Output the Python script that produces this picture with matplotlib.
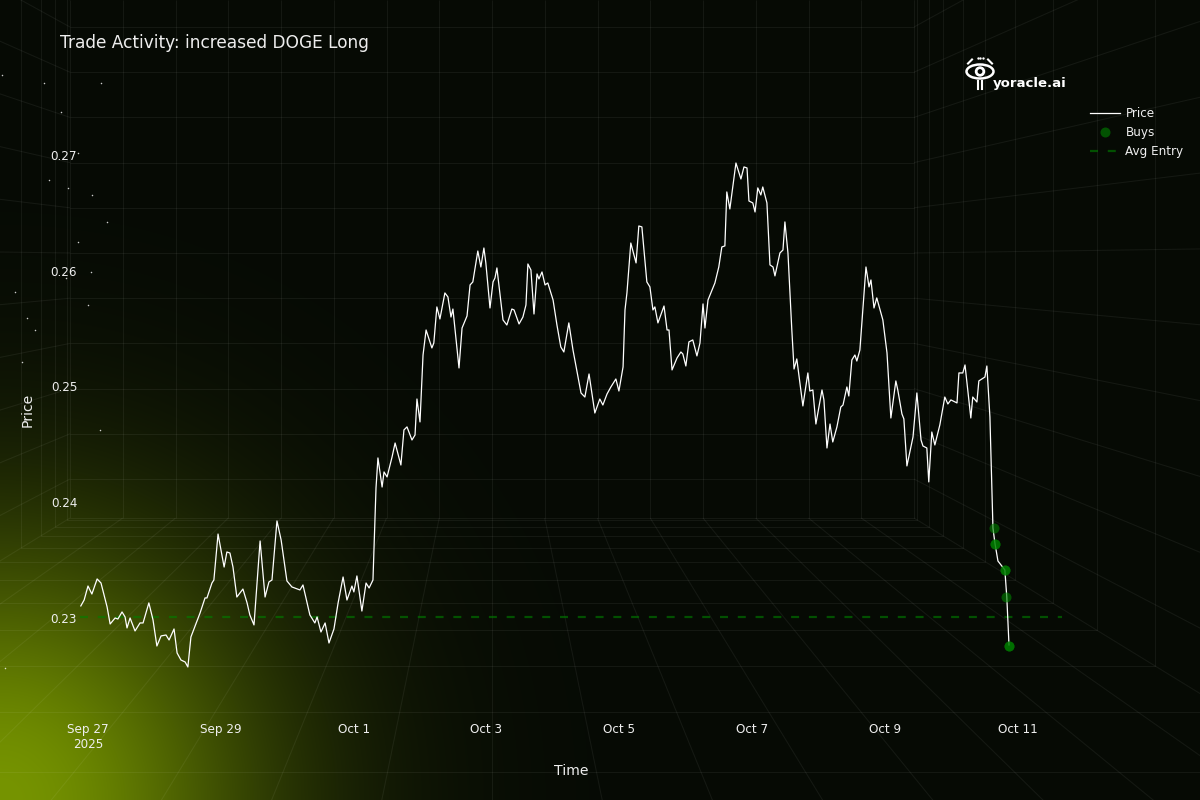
import numpy as np
import pandas as pd
import matplotlib
matplotlib.use("Agg")
import matplotlib.pyplot as plt
import matplotlib.dates as mdates
from matplotlib.collections import LineCollection
from matplotlib.patches import Ellipse, Circle

# ---- data ----
START = pd.Timestamp("2025-09-27 00:00")

# hours since START
hours = [
    -2.6, -1.4, 0.0, 1.4, 3.3, 4.7, 6.9, 8.0, 9.8, 10.8,
    12.3, 13.4, 14.1, 15.2, 17.0, 18.8, 19.9, 22.0, 23.5, 24.9,
    26.4, 28.2, 29.3, 31.1, 32.2, 33.6, 35.1, 36.1, 37.2, 40.5,
    42.3, 43.0, 44.8, 45.5, 47.0, 49.2, 50.2, 51.3, 52.4, 53.8,
    56.0, 57.5, 58.5, 60.0, 62.2, 64.0, 65.4, 66.5, 68.3, 69.8,
    71.9, 73.7, 76.6, 77.7, 80.2, 82.0, 82.8, 84.2, 85.7, 87.1,
    88.9, 90.4, 92.2, 93.6, 95.4, 96.1, 97.2, 99.0, 100.5, 101.6,
    103.0, 104.1, 104.8, 106.3, 107.0, 108.1, 109.9, 111.0, 113.1, 114.2,
    115.3, 117.1, 118.2, 118.9, 120.0, 121.1, 122.2, 124.3, 125.0, 126.1,
    127.2, 129.0, 130.1, 131.2, 131.9, 134.1, 135.2, 137.0, 138.1, 139.1,
    140.9, 142.0, 143.1, 143.8, 145.3, 146.4, 147.1, 147.8, 150.0, 151.4,
    153.2, 154.0, 155.8, 157.2, 158.3, 159.0, 160.1, 161.2, 162.3, 163.0,
    164.1, 165.2, 166.2, 168.1, 169.5, 170.9, 172.0, 173.8, 175.3, 178.2,
    179.6, 181.1, 183.2, 185.0, 186.1, 187.6, 189.0, 190.8, 191.9, 193.4,
    194.1, 194.8, 196.2, 198.1, 199.1, 200.2, 202.0, 203.1, 204.2, 204.9,
    206.0, 208.2, 209.3, 210.0, 211.1, 212.9, 214.3, 215.0, 216.1, 217.2,
    218.6, 220.1, 221.2, 222.3, 223.0, 224.1, 226.6, 228.0, 229.1, 230.2,
    230.9, 232.0, 234.2, 236.0, 237.1, 238.2, 238.9, 240.3, 241.1, 242.1,
    243.2, 243.9, 245.4, 246.5, 247.6, 248.3, 250.1, 251.2, 251.9, 253.0,
    254.4, 255.2, 256.2, 258.4, 260.2, 260.9, 262.0, 263.1, 265.3, 266.0,
    267.1, 268.2, 269.2, 270.7, 272.1, 272.9, 274.3, 275.0, 276.1, 277.2,
    277.9, 279.0, 281.2, 282.3, 283.0, 284.1, 285.1, 287.3, 288.8, 290.2,
    292.0, 292.7, 294.2, 294.9, 296.0, 298.2, 299.6, 301.1, 301.8, 303.2,
    303.9, 305.0, 306.1, 307.9, 309.7, 310.8, 311.9, 314.1, 314.8, 316.2,
    317.0, 319.1, 319.8, 321.3, 322.0, 324.2, 324.9, 326.0, 327.1, 327.8,
    328.9, 330.0, 331.4, 332.1, 332.9,
]

price = [
    0.23104, 0.23155, 0.23276, 0.23207, 0.23337, 0.23302, 0.23095, 0.22948, 0.23000, 0.22991,
    0.23052, 0.23009, 0.22914, 0.23000, 0.22888, 0.22957, 0.22957, 0.23130, 0.22983, 0.22758,
    0.22845, 0.22853, 0.22810, 0.22905, 0.22698, 0.22637, 0.22620, 0.22577, 0.22836, 0.23043,
    0.23173, 0.23173, 0.23302, 0.23328, 0.23725, 0.23440, 0.23570, 0.23561, 0.23440, 0.23181,
    0.23250, 0.23130, 0.23026, 0.22940, 0.23665, 0.23181, 0.23311, 0.23328, 0.23838, 0.23674,
    0.23320, 0.23268, 0.23242, 0.23285, 0.23026, 0.22957, 0.23009, 0.22879, 0.22957, 0.22784,
    0.22905, 0.23130, 0.23354, 0.23155, 0.23276, 0.23225, 0.23363, 0.23060, 0.23302, 0.23259,
    0.23328, 0.24123, 0.24382, 0.24131, 0.24261, 0.24218, 0.24390, 0.24511, 0.24321, 0.24624,
    0.24650, 0.24537, 0.24580, 0.24891, 0.24693, 0.25271, 0.25487, 0.25332, 0.25375, 0.25686,
    0.25582, 0.25807, 0.25772, 0.25599, 0.25668, 0.25159, 0.25504, 0.25608, 0.25876, 0.25902,
    0.26169, 0.26031, 0.26195, 0.26066, 0.25677, 0.25902, 0.25936, 0.26023, 0.25574, 0.25530,
    0.25668, 0.25660, 0.25539, 0.25599, 0.25703, 0.26057, 0.26005, 0.25625, 0.25971, 0.25928,
    0.25988, 0.25876, 0.25893, 0.25746, 0.25530, 0.25340, 0.25297, 0.25548, 0.25314, 0.24943,
    0.24908, 0.25107, 0.24770, 0.24891, 0.24839, 0.24934, 0.24995, 0.25064, 0.24960, 0.25168,
    0.25660, 0.25807, 0.26238, 0.26066, 0.26385, 0.26377, 0.25902, 0.25859, 0.25660, 0.25686,
    0.25548, 0.25694, 0.25487, 0.25487, 0.25142, 0.25245, 0.25297, 0.25280, 0.25176, 0.25384,
    0.25401, 0.25263, 0.25375, 0.25712, 0.25504, 0.25746, 0.25893, 0.26031, 0.26204, 0.26213,
    0.26679, 0.26532, 0.26929, 0.26791, 0.26895, 0.26886, 0.26601, 0.26584, 0.26506, 0.26714,
    0.26653, 0.26722, 0.26584, 0.26049, 0.26031, 0.25954, 0.26152, 0.26178, 0.26420, 0.26152,
    0.25487, 0.25150, 0.25237, 0.24831, 0.25116, 0.24960, 0.24969, 0.24675, 0.24969, 0.24883,
    0.24468, 0.24675, 0.24520, 0.24650, 0.24822, 0.24839, 0.24995, 0.24917, 0.25228, 0.25271,
    0.25219, 0.25314, 0.26031, 0.25859, 0.25919, 0.25677, 0.25764, 0.25574, 0.25289, 0.24727,
    0.25047, 0.24969, 0.24762, 0.24719, 0.24313, 0.24563, 0.24943, 0.24537, 0.24485, 0.24468,
    0.24175, 0.24606, 0.24494, 0.24667, 0.24908, 0.24848, 0.24883, 0.24857, 0.25116, 0.25116,
    0.25185, 0.24727, 0.24908, 0.24865, 0.25047, 0.25081, 0.25176, 0.24736, 0.23777, 0.23648,
    0.23492, 0.23458, 0.23415, 0.23181, 0.22767,
]

# buys (some fills share the same time and price)
buy_hours = [327.4, 327.8, 327.8, 331.4, 331.4, 331.8, 332.9, 332.9]
buy_price = [0.23777, 0.23639, 0.23639, 0.23415, 0.23415, 0.23181, 0.22758, 0.22758]
avg_entry = 0.2301

tick_dates = ["2025-09-27", "2025-09-29", "2025-10-01", "2025-10-03",
              "2025-10-05", "2025-10-07", "2025-10-09", "2025-10-11"]
tick_labels = ["Sep 27\n2025", "Sep 29", "Oct 1", "Oct 3",
               "Oct 5", "Oct 7", "Oct 9", "Oct 11"]
y_ticks = [0.23, 0.24, 0.25, 0.26, 0.27]

BG = "#060a05"
TXT = "#eeeeee"

fig = plt.figure(figsize=(12, 8), dpi=100)
fig.patch.set_facecolor(BG)

# ---- decorative background: glow + perspective room grid ----
bg = fig.add_axes([0, 0, 1, 1])
yy, xx = np.mgrid[0:800, 0:1200]
r = np.hypot(xx, 800 - yy)
f = np.exp(-(r / 265.0) ** 2.0)
base = np.array([6, 10, 5]) / 255
glow = np.array([118, 148, 0]) / 255
img = base + (glow - base) * f[..., None]
bg.imshow(img, extent=(0, 1200, 800, 0), aspect="auto", zorder=0)

vp = np.array([492.0, 259.0])
wall_x = 70 + 52.75 * np.arange(17)
wall_y = 27 + 45.2 * np.arange(11)
frames = [1.007, 1.036, 1.069, 1.116, 1.168, 1.239, 1.329, 1.434, 1.571, 1.75, 1.98, 2.3]
segs = []
for x in wall_x:
    segs.append([(x, 0), (x, 518)])
for y in list(wall_y) + [518]:
    segs.append([(70, y), (914, y)])
far = 5.0
for x in wall_x:
    p = np.array([x, 518.0])
    segs.append([p, vp + far * (p - vp)])
for y in list(wall_y) + [0.0]:
    for x in (70.0, 914.0):
        p = np.array([x, y])
        segs.append([p, vp + far * (p - vp)])
for s in frames:
    l, rr = vp[0] - s * 422, vp[0] + s * 422
    t, b = vp[1] - s * 259, vp[1] + s * 259
    segs.append([(l, t), (l, b), (rr, b), (rr, t)])
bg.add_collection(LineCollection(segs, colors="white", alpha=0.058, linewidths=0.8, zorder=1))

stars_x = [2, 44, 101, 61, 78, 68, 92, 107, 78, 91, 88, 15, 27, 35, 49, 5, 22, 66, 100]
stars_y = [75, 83, 83, 112, 153, 188, 195, 222, 242, 272, 305, 292, 318, 330, 180, 668, 362, 278, 430]
bg.scatter(stars_x, stars_y, s=1.2, color="white", alpha=0.8, lw=0, zorder=1)

# logo
bg.add_patch(Ellipse((980, 71.5), 27, 14, fill=False, ec="white", lw=1.8, zorder=3))
bg.add_patch(Circle((980, 71.5), 4.5, color="white", zorder=3))
bg.add_patch(Circle((980, 71.5), 1.7, color=BG, zorder=4))
bg.plot([968.0, 972.0], [63.5, 59.5], color="white", lw=1.5, zorder=3)
bg.plot([988.0, 992.0], [59.5, 63.5], color="white", lw=1.5, zorder=3)
bg.scatter([977.5, 980, 982.5], [57.5, 57.5, 57.5], s=3, color="white", lw=0, zorder=3)
bg.plot([977.8, 977.8], [81, 88.5], color="white", lw=1.5, zorder=3)
bg.plot([981.8, 981.8], [81, 88.5], color="white", lw=1.5, zorder=3)
bg.text(993, 83, "yoracle.ai", color="white", fontsize=9.5, fontweight="bold",
        va="center", ha="left", zorder=3)

bg.set_xlim(0, 1200)
bg.set_ylim(800, 0)
bg.axis("off")

# ---- main chart ----
ax = fig.add_axes([80 / 1200, 80 / 800, 982 / 1200, 620 / 800])
ax.patch.set_alpha(0)
t0 = mdates.date2num(START)
x = t0 + np.array(hours) / 24.0
bx = t0 + np.array(buy_hours) / 24.0

ax.plot(x, price, color="white", lw=0.9, label="Price", zorder=3)
ax.plot(bx, buy_price, "o", color="#008000", alpha=0.62, ms=7.2, mew=0,
        label="Buys", zorder=4)
ax.axhline(avg_entry, color="#008000", alpha=0.6, lw=1.6, dashes=(3.6, 4.4),
           label="Avg Entry", zorder=2)

ax.set_xlim(t0 - 0.1205, t0 + 14.669)
ax.set_ylim(0.22119, 0.27473)
ax.set_xticks([mdates.date2num(pd.Timestamp(d)) for d in tick_dates])
ax.set_xticklabels(tick_labels)
ax.set_yticks(y_ticks)
ax.set_yticklabels([f"{v:.2f}" for v in y_ticks])
ax.tick_params(colors=TXT, labelsize=8.64, length=0)
ax.tick_params(axis="x", pad=2)
ax.tick_params(axis="y", pad=2)
for sp in ax.spines.values():
    sp.set_visible(False)

fig.text(571 / 1200, 1 - 771 / 800, "Time", color=TXT, fontsize=10.08, ha="center", va="center")
fig.text(28 / 1200, 1 - 410 / 800, "Price", color=TXT, fontsize=10.08, ha="center",
         va="center", rotation=90)
fig.text(60 / 1200, 1 - 43 / 800, "Trade Activity: increased DOGE Long", color=TXT,
         fontsize=12.24, ha="left", va="center")

leg = ax.legend(loc="upper left", bbox_to_anchor=(1090 / 1200, 1 - 107 / 800),
                bbox_transform=fig.transFigure, frameon=False, fontsize=8.64,
                handlelength=2.5, handletextpad=0.45, labelspacing=0.52,
                borderpad=0, borderaxespad=0)
for txt in leg.get_texts():
    txt.set_color(TXT)

fig.savefig("out.png", dpi=100, facecolor=BG)
